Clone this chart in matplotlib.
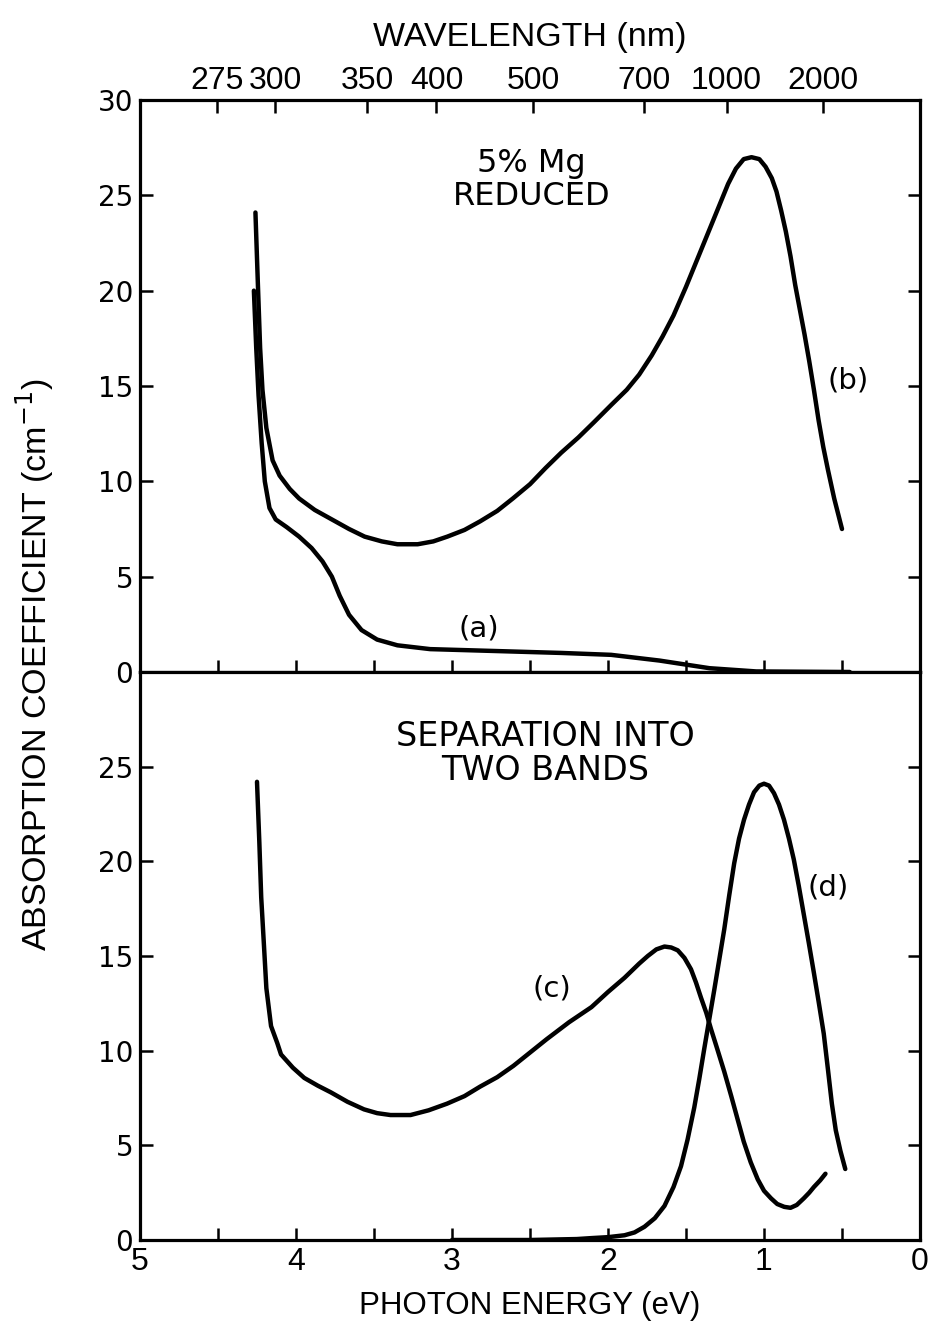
import numpy as np
import matplotlib
matplotlib.use("Agg")
import matplotlib.pyplot as plt

plt.rcParams['font.family'] = ['Liberation Sans', 'DejaVu Sans']

# ---------------- data ----------------
# Curve (a): top panel, lower curve
energy_a = [4.27, 4.255, 4.24, 4.22, 4.20, 4.17, 4.13, 4.06, 3.98, 3.90, 3.83, 3.77,
            3.72, 3.66, 3.58, 3.48, 3.35, 3.14, 2.72, 2.30, 1.98, 1.67, 1.35, 1.05, 0.45]
absorb_a = [20.0, 17.0, 14.5, 12.0, 10.0, 8.6, 8.0, 7.6, 7.1, 6.5, 5.8, 5.0,
            4.0, 3.0, 2.2, 1.7, 1.4, 1.2, 1.1, 1.0, 0.9, 0.6, 0.2, 0.03, 0.0]

# Curve (b): top panel, upper curve
energy_b = [4.26, 4.245, 4.23, 4.215, 4.19, 4.15, 4.105, 4.04, 3.98, 3.88, 3.77, 3.66,
            3.56, 3.45, 3.35, 3.22, 3.12, 3.03, 2.92, 2.82, 2.71, 2.61, 2.50, 2.40,
            2.30, 2.19, 2.09, 1.98, 1.88, 1.80, 1.72, 1.65, 1.58, 1.50, 1.43, 1.36,
            1.29, 1.23, 1.18, 1.13, 1.08, 1.03, 0.99, 0.95, 0.92, 0.89, 0.86, 0.83,
            0.80, 0.77, 0.74, 0.71, 0.68, 0.65, 0.62, 0.59, 0.55, 0.50]
absorb_b = [24.1, 20.5, 17.0, 14.8, 12.8, 11.1, 10.3, 9.6, 9.1, 8.5, 8.0, 7.5,
            7.1, 6.85, 6.7, 6.7, 6.85, 7.1, 7.45, 7.9, 8.45, 9.1, 9.85, 10.7,
            11.5, 12.3, 13.1, 14.0, 14.8, 15.6, 16.6, 17.6, 18.7, 20.2, 21.6, 23.0,
            24.4, 25.6, 26.4, 26.9, 27.0, 26.9, 26.5, 25.9, 25.2, 24.2, 23.1, 21.8,
            20.3, 19.0, 17.7, 16.3, 14.8, 13.2, 11.8, 10.6, 9.1, 7.5]

# Curve (c): bottom panel, UV + 1.6 eV band
energy_c = [4.25, 4.235, 4.223, 4.205, 4.19, 4.16, 4.12, 4.096, 4.02, 3.947, 3.86, 3.777,
            3.67, 3.564, 3.48, 3.394, 3.266, 3.15, 3.032, 2.92, 2.82, 2.71, 2.606, 2.50,
            2.394, 2.25, 2.106, 2.00, 1.894, 1.80, 1.745, 1.69, 1.638, 1.595, 1.553, 1.51,
            1.468, 1.436, 1.404, 1.37, 1.34, 1.30, 1.255, 1.21, 1.17, 1.13, 1.085, 1.04,
            1.0, 0.955, 0.915, 0.87, 0.83, 0.79, 0.745, 0.71, 0.68, 0.64, 0.606]
absorb_c = [24.2, 21.0, 18.1, 15.5, 13.3, 11.3, 10.4, 9.8, 9.1, 8.56, 8.15, 7.8,
            7.3, 6.9, 6.7, 6.6, 6.6, 6.85, 7.2, 7.6, 8.1, 8.6, 9.2, 9.9,
            10.6, 11.5, 12.3, 13.1, 13.85, 14.6, 15.0, 15.35, 15.5, 15.45, 15.3, 14.9,
            14.3, 13.6, 12.8, 12.0, 11.15, 10.1, 8.9, 7.6, 6.4, 5.2, 4.1, 3.2,
            2.6, 2.2, 1.9, 1.75, 1.7, 1.85, 2.2, 2.5, 2.8, 3.15, 3.5]

# Curve (d): bottom panel, 1 eV band
energy_d = [3.00, 2.50, 2.20, 2.106, 2.00, 1.894, 1.83, 1.766, 1.70, 1.638, 1.58, 1.532,
            1.49, 1.447, 1.415, 1.383, 1.35, 1.319, 1.287, 1.255, 1.223, 1.191, 1.16, 1.128,
            1.096, 1.064, 1.03, 1.0, 0.968, 0.936, 0.904, 0.872, 0.84, 0.809, 0.777, 0.745,
            0.713, 0.68, 0.65, 0.617, 0.59, 0.565, 0.54, 0.51, 0.479]
absorb_d = [0.0, 0.0, 0.05, 0.1, 0.15, 0.25, 0.4, 0.7, 1.15, 1.8, 2.8, 3.9,
            5.3, 7.0, 8.5, 10.1, 11.7, 13.2, 14.8, 16.4, 18.2, 19.9, 21.2, 22.2,
            23.0, 23.65, 24.0, 24.1, 24.0, 23.6, 23.0, 22.2, 21.2, 20.1, 18.7, 17.2,
            15.7, 14.1, 12.6, 10.9, 9.0, 7.2, 5.8, 4.7, 3.75]

energy_ticks = [5, 4, 3, 2, 1, 0]
energy_minor = [4.5, 3.5, 2.5, 1.5, 0.5]
top_yticks = [0, 5, 10, 15, 20, 25, 30]
bottom_yticks = [0, 5, 10, 15, 20, 25]
wavelength_ticks = [275, 300, 350, 400, 500, 700, 1000, 2000]
HC = 1239.84  # eV*nm

# ---------------- figure ----------------
fig = plt.figure(figsize=(9.29, 13.30), dpi=100)
W, H = 929, 1330
left, right = 140 / W, 920 / W
ax1 = fig.add_axes([left, (H - 672) / H, right - left, (672 - 100) / H])
ax2 = fig.add_axes([left, (H - 1240) / H, right - left, (1240 - 672) / H], sharex=ax1)

lw = 3.2
style = dict(color='black', lw=lw, solid_joinstyle='round', solid_capstyle='round')
ax1.plot(energy_a, absorb_a, **style)
ax1.plot(energy_b, absorb_b, **style)
ax2.plot(energy_c, absorb_c, **style)
ax2.plot(energy_d, absorb_d, **style)

ax1.set_yticks(top_yticks)
ax2.set_yticks(bottom_yticks)
for ax in (ax1, ax2):
    ax.set_xlim(5, 0)
    ax.set_ylim(0, 30)
    ax.set_xticks(energy_ticks)
    ax.set_xticks(energy_minor, minor=True)
    for s in ax.spines.values():
        s.set_linewidth(2.3)
    ax.tick_params(axis='both', which='both', direction='in', width=1.8,
                   right=True, top=False)
    ax.tick_params(axis='y', length=9, pad=5, labelsize=20,
                   labelfontfamily='DejaVu Sans')
    ax.tick_params(axis='x', which='both', length=9, labelsize=23, pad=5)
ax1.tick_params(axis='x', which='both', labelbottom=False)

# wavelength axis on top
def ev_nm(x):
    x = np.asarray(x, dtype=float)
    with np.errstate(divide='ignore', invalid='ignore'):
        return HC / np.where(np.abs(x) < 1e-9, 1e-9, x)

sec = ax1.secondary_xaxis('top', functions=(ev_nm, ev_nm))
sec.set_xticks(wavelength_ticks)
sec.set_xticklabels([str(w) for w in wavelength_ticks])
sec.tick_params(direction='in', length=9, width=1.8, labelsize=23, pad=3)
sec.minorticks_off()
sec.set_xlabel('WAVELENGTH (nm)', fontsize=24.5, labelpad=14)

ax2.set_xlabel('PHOTON ENERGY (eV)', fontsize=22.5, labelpad=10)
fig.text(0.037, 0.500, 'ABSORPTION COEFFICIENT (cm$^{-1}$)', rotation=90,
         ha='center', va='center', fontsize=24.5)

# annotations
ann = dict(ha='center', va='center', family=['DejaVu Sans'])
ax1.text(2.49, 25.8, '5% Mg\nREDUCED', fontsize=23, linespacing=1.1, **ann)
ax1.text(2.83, 2.3, '(a)', fontsize=21, **ann)
ax1.text(0.46, 15.3, '(b)', fontsize=21, **ann)
ax2.text(2.40, 25.7, 'SEPARATION INTO\nTWO BANDS', fontsize=24, linespacing=1.05, **ann)
ax2.text(2.36, 13.3, '(c)', fontsize=21, **ann)
ax2.text(0.59, 18.6, '(d)', fontsize=21, **ann)

fig.savefig('out.png', dpi=100, facecolor='white')
